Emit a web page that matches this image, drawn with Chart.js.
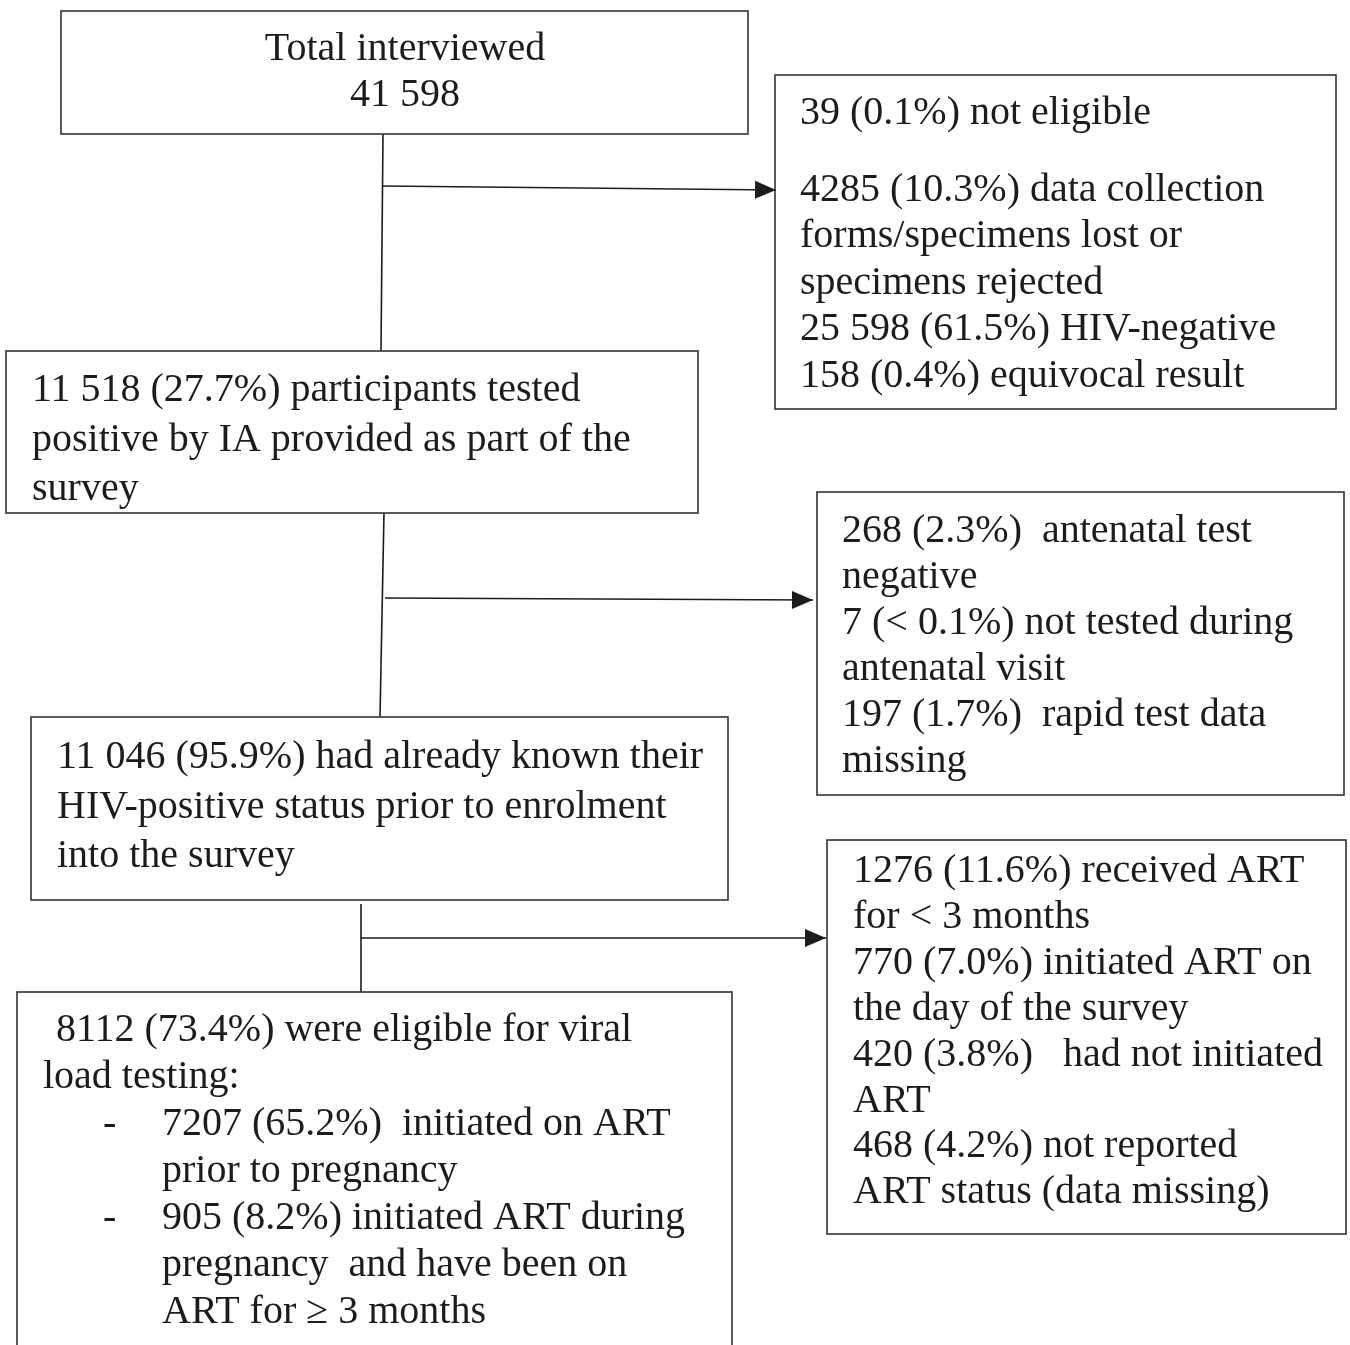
<!DOCTYPE html>
<html>
<head>
<meta charset="utf-8">
<script src="https://cdn.jsdelivr.net/npm/chart.js@4/dist/chart.umd.min.js"></script>
<style>
  html, body { margin: 0; padding: 0; background: #fff; }
  #wrap { width: 1350px; height: 1345px; position: relative; }
</style>
</head>
<body>
<div id="wrap"><canvas id="flow"></canvas></div>
<script>
// ---------- texts of the flow diagram ----------
const totalLines = ['Total interviewed', '41 598'];
const excluded1Lines = [
  '39 (0.1%) not eligible',
  '',
  '4285 (10.3%) data collection',
  'forms/specimens lost or',
  'specimens rejected',
  '25 598 (61.5%) HIV-negative',
  '158 (0.4%) equivocal result',
];
const positiveLines = [
  '11 518 (27.7%) participants tested',
  'positive by IA provided as part of the',
  'survey',
];
const excluded2Lines = [
  '268 (2.3%)  antenatal test',
  'negative',
  '7 (< 0.1%) not tested during',
  'antenatal visit',
  '197 (1.7%)  rapid test data',
  'missing',
];
const knownLines = [
  '11 046 (95.9%) had already known their',
  'HIV-positive status prior to enrolment',
  'into the survey',
];
const excluded3Lines = [
  '1276 (11.6%) received ART',
  'for < 3 months',
  '770 (7.0%) initiated ART on',
  'the day of the survey',
  '420 (3.8%)   had not initiated',
  'ART',
  '468 (4.2%) not reported',
  'ART status (data missing)',
];
// "-\t" marks a bullet, "\t" a continuation under the bullet text
const eligibleLines = [
  ' 8112 (73.4%) were eligible for viral',
  'load testing:',
  '-\t7207 (65.2%)  initiated on ART',
  '\tprior to pregnancy',
  '-\t905 (8.2%) initiated ART during',
  '\tpregnancy  and have been on',
  '\tART for \u2265 3 months',
];

// ---------- layout (diagram units = pixels of the original) ----------
const boxes = [
  { lines: totalLines,     x: 61,  y: 11,  w: 687, h: 123, tx: 405, by: 60,   lh: 46, align: 'center' },
  { lines: excluded1Lines, x: 775, y: 75,  w: 561, h: 334, tx: 800, by: 124,  lh: 46.5, blank: 30 },
  { lines: positiveLines,  x: 6,   y: 351, w: 692, h: 162, tx: 32,  by: 401,  lh: 49.5 },
  { lines: excluded2Lines, x: 817, y: 492, w: 527, h: 303, tx: 842, by: 542,  lh: 46 },
  { lines: knownLines,     x: 31,  y: 717, w: 697, h: 183, tx: 57,  by: 768,  lh: 49.5 },
  { lines: excluded3Lines, x: 827, y: 840, w: 519, h: 394, tx: 853, by: 882,  lh: 45.9 },
  { lines: eligibleLines,  x: 17,  y: 992, w: 715, h: 380, tx: 46,  by: 1041, lh: 47, bulletX: 103, tabX: 162 },
];
const connectors = [
  [{ x: 383, y: 134 }, { x: 381, y: 351 }],
  [{ x: 383, y: 186 }, { x: 776, y: 190 }],
  [{ x: 384, y: 513 }, { x: 380, y: 717 }],
  [{ x: 385, y: 598 }, { x: 813, y: 600 }],
  [{ x: 361, y: 904 }, { x: 361, y: 992 }],
  [{ x: 361, y: 938 }, { x: 826, y: 938 }],
];
const arrowIdx = [1, 3, 5];

const INK = '#1c1c1c';
const FONT = '40px "Liberation Serif", "Times New Roman", serif';

const flowPlugin = {
  id: 'flowBoxes',
  afterDatasetsDraw(chart) {
    const { ctx, scales: { x, y } } = chart;
    const px = (v) => x.getPixelForValue(v);
    const py = (v) => y.getPixelForValue(v);
    ctx.save();
    // boxes
    ctx.strokeStyle = '#333';
    ctx.lineWidth = 1.6;
    boxes.forEach((b) => {
      const x0 = px(b.x), y0 = py(b.y), x1 = px(b.x + b.w), y1 = py(b.y + b.h);
      ctx.strokeRect(x0, y0, x1 - x0, y1 - y0);
    });
    // arrowheads
    ctx.fillStyle = INK;
    arrowIdx.forEach((i) => {
      const seg = connectors[i];
      const a = seg[0], b = seg[seg.length - 1];
      const ax = px(a.x), ay = py(a.y), bx = px(b.x), by = py(b.y);
      const ang = Math.atan2(by - ay, bx - ax);
      const L = 21, W = 9;
      ctx.beginPath();
      ctx.moveTo(bx, by);
      ctx.lineTo(bx - L * Math.cos(ang) + W * Math.sin(ang), by - L * Math.sin(ang) - W * Math.cos(ang));
      ctx.lineTo(bx - L * Math.cos(ang) - W * Math.sin(ang), by - L * Math.sin(ang) + W * Math.cos(ang));
      ctx.closePath();
      ctx.fill();
    });
    // texts
    ctx.font = FONT;
    ctx.fillStyle = INK;
    ctx.textBaseline = 'alphabetic';
    boxes.forEach((b) => {
      let base = b.by;
      b.lines.forEach((line, k) => {
        if (k > 0) base += line === '' ? b.blank : b.lh;
        if (line === '') return;
        ctx.textAlign = b.align || 'left';
        if (line.includes('\t')) {
          const [bul, txt] = line.split('\t');
          if (bul) ctx.fillText(bul, px(b.bulletX), py(base));
          ctx.fillText(txt, px(b.tabX), py(base));
        } else {
          ctx.fillText(line, px(k === 0 && line.startsWith(' ') ? b.tx : (b.bulletX ? 43 : b.tx)), py(base));
        }
      });
    });
    ctx.restore();
  },
};

new Chart(document.getElementById('flow'), {
  type: 'scatter',
  data: {
    datasets: connectors.map((seg) => ({
      data: seg,
      showLine: true,
      borderColor: INK,
      borderWidth: 1.6,
      pointRadius: 0,
      fill: false,
    })),
  },
  options: {
    responsive: true,
    maintainAspectRatio: false,
    animation: false,
    layout: { padding: 0 },
    plugins: { legend: { display: false }, tooltip: { enabled: false } },
    scales: {
      x: { type: 'linear', min: 0, max: 1350, display: false },
      y: { type: 'linear', min: 0, max: 1345, reverse: true, display: false },
    },
  },
  plugins: [flowPlugin],
});
</script>
</body>
</html>
